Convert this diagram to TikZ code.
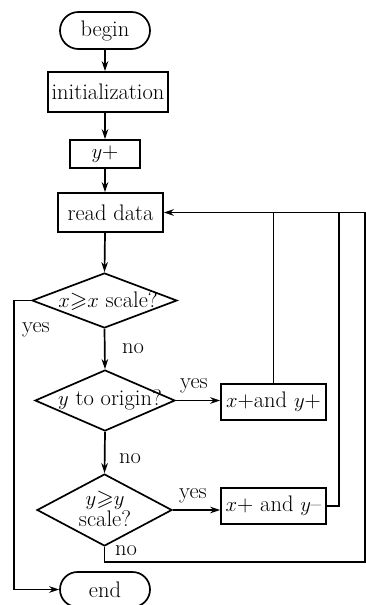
\documentclass[tikz,border=0pt]{standalone}
\usepackage{amssymb}
\usepackage{fontspec}
\setmainfont{Latin Modern Roman}
\usetikzlibrary{shapes.geometric,shapes.misc,arrows.meta}
\begin{document}
\begin{tikzpicture}[x=1pt,y=-1pt,
  line width=1.7pt,
  txt/.style={font=\fontsize{22.5}{22}\selectfont},
  box/.style={draw,rectangle,inner sep=0pt,txt},
  term/.style={draw,rounded rectangle,inner sep=0pt,minimum width=90pt,txt},
  dia/.style={draw,diamond,inner sep=0pt,shape aspect=2.6},
  arr/.style={-{Stealth[length=10pt,width=6.5pt]}},
  lbl/.style={inner sep=0pt,txt}]
\useasboundingbox (0,0) rectangle (366,605);
\fill[white] (0,0) rectangle (366,605);
% nodes
\node[term,minimum height=37pt] (begin) at (105,30.5) {begin};
\node[box,minimum width=120pt,minimum height=40pt] (init) at (108,92) {initialization};
\node[box,minimum width=70pt,minimum height=28pt] (yp) at (105,154) {$y$+};
\node[box,minimum width=105pt,minimum height=39pt] (rd) at (110.5,212.5) {read data};
\node[dia,minimum width=145pt,minimum height=55pt] (d1) at (104.5,300.5) {};
\node[lbl] (t1) at (108,301) {$x{\geqslant}x$ scale?};
\node[dia,minimum width=140pt,minimum height=61pt] (d2) at (105,400.5) {};
\node[lbl] (t2) at (110,400) {$y$ to origin?};
\node[box,minimum width=105pt,minimum height=36pt] (b1) at (273.5,402) {$x$+and $y$+};
\node[dia,minimum width=135pt,minimum height=72pt] (d3) at (104.5,510) {};
\node[lbl,align=center,font=\fontsize{22.5}{19}\selectfont] (t3) at (105,509) {$y{\geqslant}y$\\scale?};
\node[box,minimum width=105pt,minimum height=36pt] (b2) at (273.5,506) {$x$+ and $y$--};
\node[term,minimum height=35pt] (end) at (105,589.5) {end};
% labels
\node[lbl] (l1) at (36,330) {yes};
\node[lbl] (l2) at (133,349) {no};
\node[lbl] (l3) at (194,386) {yes};
\node[lbl] (l4) at (130,459) {no};
\node[lbl] (l5) at (193,496) {yes};
\node[lbl] (l6) at (126,551) {no};
% coordinates
\coordinate (c1) at (14,300.5);
\coordinate (c2) at (14,589.5);
\coordinate (c3) at (339,506);
\coordinate (c4) at (104.5,562);
\coordinate (c5) at (365,562);
\coordinate (c6) at (365,212.5);
% connectors
\draw[arr] (begin.south) -- (begin.south |- init.north);
\draw[arr] (init.south -| begin.south) -- (begin.south |- yp.north);
\draw[arr] (yp.south) -- (yp.south |- rd.north);
\draw[arr] (rd.south -| yp.south) -- (d1.north);
\draw[arr] (d1.south) -- (d2.north);
\draw[arr] (d2.south) -- (d3.north);
\draw[arr] (d2.east) -- (d2.east -| b1.west);
\draw[arr] (d3.east) -- (d3.east -| b2.west);
\draw (b1.north) -- (b1.north |- rd.east);
\draw (b2.east) -- (c3) -- (c3 |- rd.east);
\draw[arr] (d3.south) -- (c4) -- (c5) -- (c6) -- (rd.east);
\draw[arr] (d1.west) -- (c1) -- (c2) -- (end.west);
\end{tikzpicture}
\end{document}
